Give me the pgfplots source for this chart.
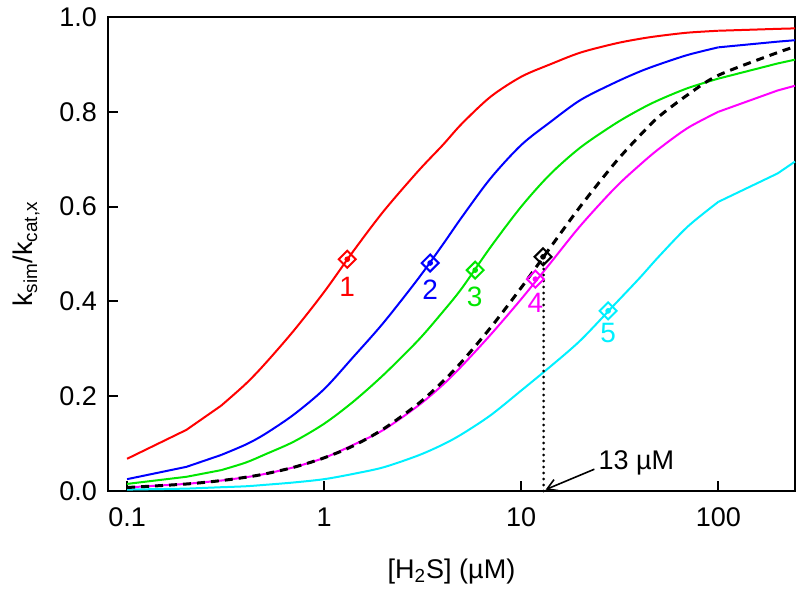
\documentclass[border=0pt]{standalone}
\usepackage{pgfplots}
\pgfplotsset{compat=1.18}
\usepackage{fontspec}
\setmainfont{Liberation Sans}
\usetikzlibrary{arrows.meta}
\definecolor{cred}{RGB}{255,0,0}
\definecolor{cblue}{RGB}{0,0,255}
\definecolor{cgreen}{RGB}{0,230,0}
\definecolor{cmag}{RGB}{255,0,255}
\definecolor{ccyan}{RGB}{0,240,255}
\begin{document}
\begin{tikzpicture}
\begin{axis}[
  scale only axis, width=343.5pt, height=237pt,
  xmode=log, xmin=0.08, xmax=245, ymin=0, ymax=1,
  xtick={0.1,1,10,100}, xticklabels={0.1,1,10,100},
  ytick={0,0.2,0.4,0.6,0.8,1.0},
  yticklabel style={/pgf/number format/fixed,/pgf/number format/precision=1,/pgf/number format/fixed zerofill, xshift=-2pt},
  xticklabel style={yshift=-5pt},
  /pgf/number format/assume math mode=true,
  xminorticks=false,
  tick align=inside, major tick length=5pt,
  xtick pos=bottom, ytick pos=left,
  axis line style={line width=1pt}, major tick style={line width=1pt, black},
  tick label style={font=\fontsize{13.5}{16}\selectfont},
  label style={font=\fontsize{13.5}{16}\selectfont},
  xlabel={[H\textsubscript{2}S] (µM)},
  ylabel={k\textsubscript{sim}/k\textsubscript{cat,x}},
  xlabel style={yshift=-9pt},
  ylabel style={yshift=3pt},
  clip=false,
]
% 1 red
\addplot[cred, line width=1pt] coordinates {(0.1,0.068)(0.2,0.129)(0.3,0.18)};
\addplot[cred, line width=1pt, smooth] coordinates {(0.3,0.18)(0.4,0.226)(0.5,0.268)(0.7,0.338)(1,0.42)(1.4,0.505)(2,0.59)(3,0.675)(4,0.73)(5,0.775)(7,0.832)(10,0.874)(14,0.90)(20,0.925)(30,0.944)(40,0.954)(50,0.96)(70,0.967)(100,0.971)};
\addplot[cred, line width=1pt] coordinates {(100,0.971)(200,0.975)(245,0.976)};
% 2 blue
\addplot[cblue, line width=1pt] coordinates {(0.1,0.025)(0.2,0.051)(0.3,0.076)};
\addplot[cblue, line width=1pt, smooth] coordinates {(0.3,0.076)(0.4,0.098)(0.5,0.12)(0.7,0.161)(1,0.215)(1.4,0.282)(2,0.355)(3,0.448)(4,0.52)(5,0.578)(7,0.66)(10,0.73)(14,0.778)(20,0.825)(30,0.862)(40,0.885)(50,0.9)(70,0.92)(100,0.936)};
\addplot[cblue, line width=1pt] coordinates {(100,0.936)(200,0.948)(245,0.951)};
% 3 green
\addplot[cgreen, line width=1pt] coordinates {(0.1,0.015)(0.2,0.03)(0.3,0.044)};
\addplot[cgreen, line width=1pt, smooth] coordinates {(0.3,0.044)(0.4,0.06)(0.5,0.077)(0.7,0.104)(1,0.142)(1.4,0.188)(2,0.245)(3,0.318)(4,0.378)(5,0.428)(7,0.515)(10,0.60)(14,0.668)(20,0.725)(30,0.775)(40,0.805)(50,0.825)(70,0.85)(100,0.87)};
\addplot[cgreen, line width=1pt] coordinates {(100,0.87)(200,0.902)(245,0.91)};
% 4 magenta
\addplot[cmag, line width=1pt] coordinates {(0.1,0.0075)(0.2,0.015)(0.3,0.022)};
\addplot[cmag, line width=1pt, smooth] coordinates {(0.3,0.022)(0.4,0.029)(0.5,0.036)(0.7,0.05)(1,0.07)(1.4,0.097)(2,0.129)(3,0.18)(4,0.224)(5,0.264)(7,0.33)(10,0.405)(14,0.48)(20,0.56)(30,0.64)(40,0.688)(50,0.722)(70,0.766)(100,0.80)};
\addplot[cmag, line width=1pt] coordinates {(100,0.80)(200,0.845)(245,0.855)};
% 5 cyan
\addplot[ccyan, line width=1pt] coordinates {(0.1,0.003)(0.2,0.005)(0.3,0.008)};
\addplot[ccyan, line width=1pt, smooth] coordinates {(0.3,0.008)(0.4,0.01)(0.5,0.013)(0.7,0.018)(1,0.025)(1.4,0.036)(2,0.05)(3,0.075)(4,0.098)(5,0.12)(7,0.16)(10,0.212)(14,0.262)(20,0.318)(30,0.395)(40,0.45)(50,0.495)(70,0.558)(100,0.61)};
\addplot[ccyan, line width=1pt] coordinates {(100,0.61)(200,0.67)(245,0.695)};
% black dashed
\addplot[black, line width=1.5pt, dash pattern=on 4pt off 3pt, smooth] coordinates {(0.1,0.0074)(0.2,0.0148)(0.3,0.022)(0.4,0.029)(0.5,0.036)(0.7,0.05)(1,0.07)(1.4,0.095)(2,0.131)(3,0.184)(4,0.231)(5,0.273)(7,0.345)(10,0.429)(14,0.513)(20,0.601)(30,0.693)(40,0.75)(50,0.79)(70,0.836)(100,0.877)(200,0.925)(245,0.937)};
% dotted vertical
\addplot[black, line width=1.5pt, line cap=round, dash pattern=on 0pt off 3pt] coordinates {(13,0)(13,0.494)};
% markers
\addplot[cred, only marks, mark=square, mark options={rotate=45, line width=1pt}, mark size=3pt] coordinates {(1.31,0.489)};
\addplot[cred, only marks, mark=*, mark size=1.2pt] coordinates {(1.31,0.489)};
\addplot[cblue, only marks, mark=square, mark options={rotate=45, line width=1pt}, mark size=3pt] coordinates {(3.45,0.481)};
\addplot[cblue, only marks, mark=*, mark size=1.2pt] coordinates {(3.45,0.481)};
\addplot[cgreen, only marks, mark=square, mark options={rotate=45, line width=1pt}, mark size=3pt] coordinates {(5.84,0.466)};
\addplot[cgreen, only marks, mark=*, mark size=1.2pt] coordinates {(5.84,0.466)};
\addplot[cmag, only marks, mark=square, mark options={rotate=45, line width=1pt}, mark size=3pt] coordinates {(11.8,0.447)};
\addplot[cmag, only marks, mark=*, mark size=1.2pt] coordinates {(11.8,0.447)};
\addplot[black, only marks, mark=square, mark options={rotate=45, line width=1pt}, mark size=3pt] coordinates {(12.9,0.494)};
\addplot[black, only marks, mark=*, mark size=1.2pt] coordinates {(12.9,0.494)};
\addplot[ccyan, only marks, mark=square, mark options={rotate=45, line width=1pt}, mark size=3pt] coordinates {(27.6,0.38)};
\addplot[ccyan, only marks, mark=*, mark size=1.2pt] coordinates {(27.6,0.38)};
% labels
\node[cred, font=\fontsize{14}{16}\selectfont] at (axis cs:1.31,0.43) {1};
\node[cblue, font=\fontsize{14}{16}\selectfont] at (axis cs:3.45,0.424) {2};
\node[cgreen, font=\fontsize{14}{16}\selectfont] at (axis cs:5.8,0.41) {3};
\node[cmag, font=\fontsize{14}{16}\selectfont] at (axis cs:11.8,0.397) {4};
\node[ccyan, font=\fontsize{14}{16}\selectfont] at (axis cs:27.6,0.333) {5};
\node[anchor=west, font=\fontsize{13.5}{16}\selectfont, inner sep=1pt] at (axis cs:24,0.059) {13 µM};
\draw[line width=0.8pt, -{Straight Barb[length=5pt,width=6pt]}] (axis cs:23.5,0.046) -- (axis cs:13.3,0.003);
\end{axis}
\pgfresetboundingbox
\path ([xshift=-54pt,yshift=-49.5pt]current axis.south west) rectangle ([xshift=2.5pt,yshift=8.5pt]current axis.north east);
\end{tikzpicture}
\end{document}
